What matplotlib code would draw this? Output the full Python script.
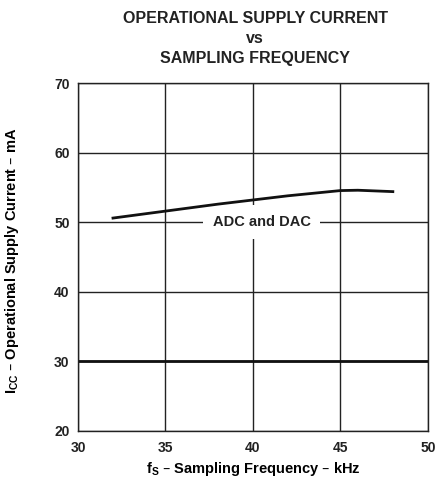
import matplotlib
matplotlib.use("Agg")
import matplotlib.pyplot as plt

plt.rcParams['font.family'] = ['Liberation Sans', 'DejaVu Sans']

freq_khz = [32, 35, 38, 40, 42, 44, 45, 46, 47, 48]
icc_ma = [50.6, 51.6, 52.6, 53.2, 53.8, 54.3, 54.55, 54.6, 54.5, 54.4]
xticks = [30, 35, 40, 45, 50]
yticks = [20, 30, 40, 50, 60, 70]

fig = plt.figure(figsize=(4.37, 4.83), dpi=100)
ax = fig.add_axes([0.1785, 0.1077, 0.8005, 0.7203])
ax.set_xlim(30, 50)
ax.set_ylim(20, 70)
ax.set_xticks(xticks)
ax.set_yticks(yticks)
ax.set_xticklabels([str(t) for t in xticks], fontweight='bold', fontsize=10)
ax.set_yticklabels([str(t) for t in yticks], fontweight='bold', fontsize=10)
ax.tick_params(axis='y', length=0, pad=6, colors='#222222')
ax.tick_params(axis='x', length=0, pad=7, colors='#222222')
ax.grid(True, color='#222222', linewidth=1.0)
ax.axhline(30, color='#111111', linewidth=2.0)
for s in ax.spines.values():
    s.set_linewidth(1.0)
    s.set_color('#222222')

ax.plot(freq_khz, icc_ma, color='#111111', linewidth=2.0, zorder=5)
ax.text(40.5, 50, 'ADC and DAC', ha='center', va='center', fontsize=10.5,
        fontweight='bold', color='#222222', zorder=4,
        bbox=dict(facecolor='white', edgecolor='none', pad=7))

ax.set_xlabel(r'f$_\mathregular{S}$ – Sampling Frequency – kHz', fontweight='bold', fontsize=10.5)
ax.xaxis.set_label_coords(0.5, -0.083)
ax.set_ylabel(r'I$_\mathregular{CC}$ – Operational Supply Current – mA', fontweight='bold', fontsize=10.5)
ax.yaxis.set_label_coords(-0.163, 0.49)
fig.text(0.584, 0.977, 'OPERATIONAL SUPPLY CURRENT\nvs\nSAMPLING FREQUENCY', ha='center', va='top',
         fontweight='bold', fontsize=11.5, linespacing=1.4, color='#222222')

fig.savefig('out.png', dpi=100)
